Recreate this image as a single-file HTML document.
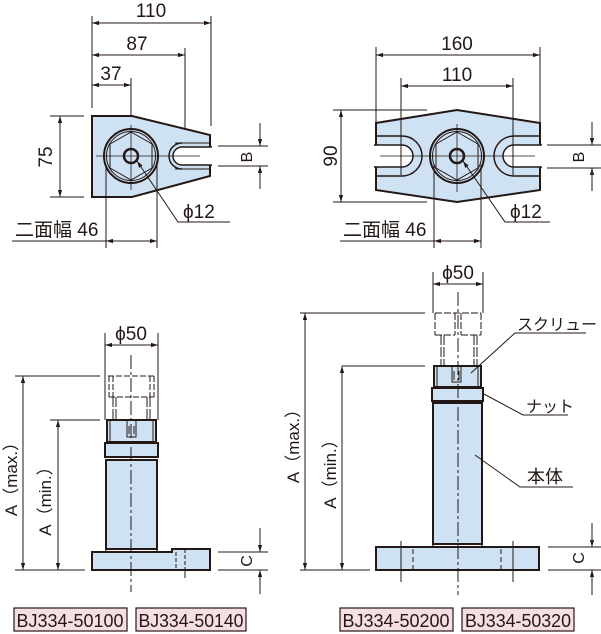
<!DOCTYPE html>
<html><head><meta charset="utf-8"><style>
html,body{margin:0;padding:0;background:#fff;}
svg{display:block;}
text{font-family:"Liberation Sans","Noto Sans CJK JP",sans-serif;fill:#231815;}
</style></head><body>
<svg width="601" height="634" viewBox="0 0 601 634" xmlns="http://www.w3.org/2000/svg">
<defs>
<marker id="a" viewBox="0 0 10 10" refX="10" refY="5" markerWidth="7" markerHeight="7" orient="auto-start-reverse"><path d="M0,2 L10,5 L0,8 z" fill="#231815"/></marker>
</defs>
<g stroke="#231815" fill="none" stroke-width="1">

<!-- ===== TOP LEFT ===== -->
<path d="M92,116 L132,116 L210,135 L210,176 L132,197 L92,197 Z" fill="#cfe2f4" stroke-width="2"/>
<path d="M212,147 L182,147 A9,9 0 0 0 182,165 L212,165" fill="#fff" stroke-width="1.5"/>
<rect x="209" y="148" width="4" height="16" fill="#fff" stroke="none"/>
<path d="M182,143 A13,13 0 0 0 182,169" stroke-width="1.5"/>
<path d="M175,143 L210,143 M175,169 L210,169" stroke-width="1"/>
<circle cx="131" cy="156" r="27" stroke-width="2"/>
<circle cx="131" cy="156" r="24.5" stroke-width="1"/>
<polygon points="131,132 152,144 152,168 131,180 110,168 110,144" stroke-width="1"/>
<circle cx="131" cy="156" r="7" stroke-width="2.5" fill="#cfe2f4"/>
<path d="M96,156 L200,156 M131,125 L131,190" stroke-width="0.8"/>
<path d="M92,16 L92,108 M211,16 L211,126 M185,48 L185,128 M131,78 L131,116"/>
<path d="M92,23 L211,23" marker-start="url(#a)" marker-end="url(#a)"/>
<path d="M92,55 L185,55" marker-start="url(#a)" marker-end="url(#a)"/>
<path d="M92,85 L131,85" marker-start="url(#a)" marker-end="url(#a)"/>
<path d="M50,116 L84,116 M50,197 L84,197"/>
<path d="M60,116 L60,197" marker-start="url(#a)" marker-end="url(#a)"/>
<path d="M218,146 L268,146 M218,166 L268,166"/>
<path d="M260,123 L260,146" marker-end="url(#a)"/><path d="M260,189 L260,166" marker-end="url(#a)"/>
<path d="M106,165 L106,248 M157,165 L157,248"/>
<path d="M12,241 L157,241"/>
<path d="M106,241 L157,241" marker-start="url(#a)" marker-end="url(#a)"/>
<path d="M230,222 L178,222 L137,161" marker-end="url(#a)"/>

<!-- ===== TOP RIGHT ===== -->
<path d="M376,123 L457,110 L540,123 L540,190 L457,202 L376,190 Z" fill="#cfe2f4" stroke-width="2"/>
<path d="M374,145 L402,145 A11,11 0 0 1 402,167 L374,167" fill="#fff" stroke-width="1.5"/>
<rect x="374" y="146" width="4" height="20" fill="#fff" stroke="none"/>
<path d="M376,136 L402,136 A20,20 0 0 1 402,176 L376,176" stroke-width="1.5"/>
<path d="M542,145 L514,145 A11,11 0 0 0 514,167 L542,167" fill="#fff" stroke-width="1.5"/>
<rect x="538" y="146" width="4" height="20" fill="#fff" stroke="none"/>
<path d="M540,136 L514,136 A20,20 0 0 0 514,176 L540,176" stroke-width="1.5"/>
<circle cx="457" cy="156" r="27" stroke-width="2"/>
<circle cx="457" cy="156" r="24.5"/>
<polygon points="457,132 478,144 478,168 457,180 436,168 436,144"/>
<circle cx="457" cy="156" r="7" stroke-width="2.5" fill="#cfe2f4"/>
<path d="M380,156 L535,156 M457,124 L457,192" stroke-width="0.8"/>
<path d="M376,47 L376,123 M540,47 L540,123 M401,78 L401,175 M513,78 L513,175"/>
<path d="M376,55 L540,55" marker-start="url(#a)" marker-end="url(#a)"/>
<path d="M401,86 L513,86" marker-start="url(#a)" marker-end="url(#a)"/>
<path d="M333,110 L427,110 M333,202 L427,202"/>
<path d="M341,110 L341,202" marker-start="url(#a)" marker-end="url(#a)"/>
<path d="M547,145 L601,145 M547,168 L601,168"/>
<path d="M592,122 L592,145" marker-end="url(#a)"/><path d="M592,191 L592,168" marker-end="url(#a)"/>
<path d="M434,165 L434,248 M481,165 L481,248"/>
<path d="M340,241 L481,241"/>
<path d="M434,241 L481,241" marker-start="url(#a)" marker-end="url(#a)"/>
<path d="M550,222 L505,222 L463,161" marker-end="url(#a)"/>

<!-- ===== BOTTOM LEFT ===== -->
<path d="M92,552 L172,552 L172,549 L210,549 L210,570 L92,570 Z" fill="#cfe2f4" stroke-width="2"/>
<path d="M105,552 L107,549 L156,549 L158,552"/>
<rect x="106" y="460" width="51" height="89" fill="#cfe2f4" stroke-width="2"/>
<rect x="105" y="443" width="53" height="14" fill="#cfe2f4" stroke-width="2"/>
<rect x="107" y="420" width="49" height="22" fill="#cfe2f4" stroke-width="2"/>
<path d="M110,421 L110,441 M153,421 L153,441"/>
<path d="M127,420 L127,437 L136,437 L136,420 M129,426 L129,434 M134,426 L134,434"/>
<path d="M185,549 L185,570 M176,552 L176,570" stroke-dasharray="4,2"/>
<path d="M185,570 L185,578"/>
<path d="M108,376 L155,376 M109,376 L109,397 M154,376 L154,397 M113,376 L113,397 M150,376 L150,397 M109,397 L154,397" stroke-dasharray="6,2"/>
<path d="M113,397 L113,420 M116,397 L116,420 M147,397 L147,420 M150,397 L150,420" stroke-dasharray="10,2"/>
<path d="M131,355 L131,592" stroke-dasharray="14,3,3,3" stroke-width="1"/>
<path d="M105,333 L105,420 M158,333 L158,420"/>
<path d="M105,345 L158,345" marker-start="url(#a)" marker-end="url(#a)"/>
<path d="M15,376 L100,376 M50,420 L100,420 M15,570 L85,570"/>
<path d="M23,376 L23,570" marker-start="url(#a)" marker-end="url(#a)"/>
<path d="M58,420 L58,570" marker-start="url(#a)" marker-end="url(#a)"/>
<path d="M218,552 L268,552 M218,570 L268,570"/>
<path d="M260,528 L260,552" marker-end="url(#a)"/><path d="M260,594 L260,570" marker-end="url(#a)"/>

<!-- ===== BOTTOM RIGHT ===== -->
<rect x="376" y="547" width="163" height="23" fill="#cfe2f4" stroke-width="2"/>
<path d="M432,547 L434,544 L481,544 L483,547"/>
<path d="M401,541 L401,582 M513,541 L513,582"/>
<path d="M413,549 L413,570 M501,549 L501,570" stroke-dasharray="5,3"/>
<rect x="433" y="403" width="49" height="141" fill="#cfe2f4" stroke-width="2"/>
<rect x="432" y="388" width="51" height="13" fill="#cfe2f4" stroke-width="2"/>
<rect x="434" y="366" width="47" height="21" fill="#cfe2f4" stroke-width="2"/>
<path d="M437,367 L437,386 M478,367 L478,386"/>
<path d="M452,366 L452,382 L461,382 L461,366 M454,371 L454,380 M459,371 L459,380"/>
<path d="M435,313 L481,313 M435,313 L435,335 M455,313 L455,335 M461,313 L461,335 M481,313 L481,335 M435,335 L455,335 M461,335 L481,335" stroke-dasharray="7,2"/>
<path d="M441,335 L441,365 M444,335 L444,365 M474,335 L474,365 M477,335 L477,365" stroke-dasharray="10,2"/>
<path d="M458,292 L458,595" stroke-dasharray="14,3,3,3"/>
<path d="M433,272 L433,313 M483,272 L483,313"/>
<path d="M433,284 L483,284" marker-start="url(#a)" marker-end="url(#a)"/>
<path d="M300,313 L425,313 M342,366 L425,366 M300,570 L370,570"/>
<path d="M305,313 L305,570" marker-start="url(#a)" marker-end="url(#a)"/>
<path d="M342,366 L342,570" marker-start="url(#a)" marker-end="url(#a)"/>
<path d="M548,547 L601,547 M548,570 L601,570"/>
<path d="M592,523 L592,547" marker-end="url(#a)"/><path d="M592,595 L592,570" marker-end="url(#a)"/>
<path d="M586,333 L515,333 L471,373"/>
<path d="M568,415 L523,415 L482,393"/>
<path d="M573,487 L520,487 L475,455"/>
</g>

<g font-size="19">
<text x="151" y="17" text-anchor="middle">110</text>
<text x="137" y="50" text-anchor="middle">87</text>
<text x="111" y="80" text-anchor="middle">37</text>
<text transform="translate(52,157) rotate(-90)" text-anchor="middle">75</text>
<text transform="translate(252,157) rotate(-90)" text-anchor="middle" font-size="16">B</text>
<text x="183" y="218">ϕ12</text>
<text x="15" y="236">二面幅  46</text>

<text x="457" y="50" text-anchor="middle">160</text>
<text x="457" y="81" text-anchor="middle">110</text>
<text transform="translate(337,156) rotate(-90)" text-anchor="middle">90</text>
<text transform="translate(584,157) rotate(-90)" text-anchor="middle" font-size="16">B</text>
<text x="510" y="218">ϕ12</text>
<text x="343" y="236">二面幅  46</text>

<text x="131" y="340" text-anchor="middle">ϕ50</text>
<text x="458" y="279" text-anchor="middle">ϕ50</text>
<text transform="translate(17,475) rotate(-90)" text-anchor="middle" font-size="17">A（max.）</text>
<text transform="translate(51,497) rotate(-90)" text-anchor="middle" font-size="17">A（min.）</text>
<text transform="translate(299,442) rotate(-90)" text-anchor="middle" font-size="17">A（max.）</text>
<text transform="translate(336,470) rotate(-90)" text-anchor="middle" font-size="17">A（min.）</text>
<text transform="translate(252,561) rotate(-90)" text-anchor="middle" font-size="16">C</text>
<text transform="translate(584,558) rotate(-90)" text-anchor="middle" font-size="16">C</text>
<text x="517" y="330" font-size="16">スクリュー</text>
<text x="526" y="412" font-size="16">ナット</text>
<text x="527" y="483" font-size="18">本体</text>
</g>

<g stroke="#231815" stroke-width="1.2" fill="#f6dfe4">
<rect x="14" y="608" width="113" height="23"/>
<rect x="136" y="608" width="110" height="23"/>
<rect x="340" y="608" width="113" height="23"/>
<rect x="462" y="608" width="112" height="23"/>
</g>
<g font-size="18" text-anchor="middle">
<text x="70" y="627" textLength="107" lengthAdjust="spacingAndGlyphs">BJ334-50100</text>
<text x="191" y="627" textLength="105" lengthAdjust="spacingAndGlyphs">BJ334-50140</text>
<text x="396" y="627" textLength="107" lengthAdjust="spacingAndGlyphs">BJ334-50200</text>
<text x="518" y="627" textLength="106" lengthAdjust="spacingAndGlyphs">BJ334-50320</text>
</g>
</svg>
</body></html>
